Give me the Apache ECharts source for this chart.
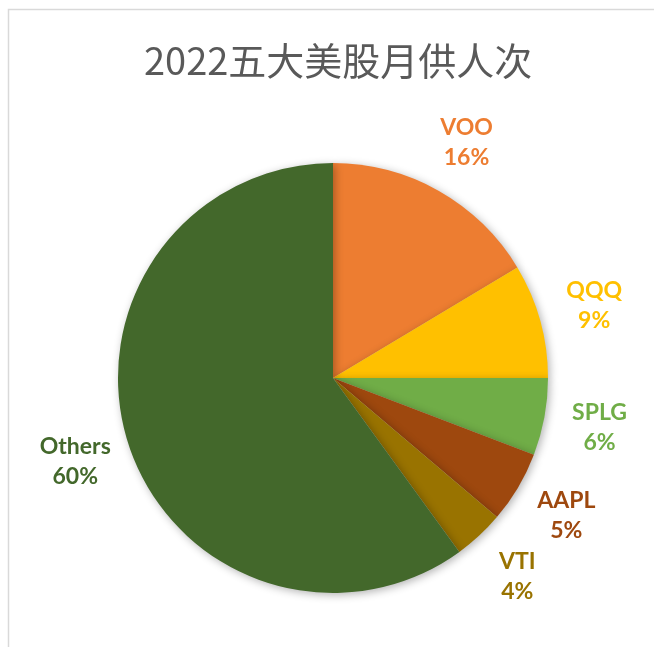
<!DOCTYPE html>
<html>
<head>
<meta charset="utf-8">
<script src="https://cdn.jsdelivr.net/npm/echarts@6/dist/echarts.min.js"></script>
<style>
  html, body { margin: 0; padding: 0; background: #fff; }
  #chart { width: 654px; height: 647px; }
</style>
</head>
<body>
<div id="chart"></div>
<script>
// --- Chart data ---
const titleText = '2022五大美股月供人次';
const tickers = ['VOO', 'QQQ', 'SPLG', 'AAPL', 'VTI', 'Others'];
const shares = [16.4, 8.6, 5.8, 5.4, 3.8, 60.0];
const sliceColors = ['#ED7D31', '#FFC000', '#70AD47', '#9E480E', '#997300', '#43682B'];

const chartDom = document.getElementById('chart');
const myChart = echarts.init(chartDom);

const pieData = tickers.map((name, i) => ({
    name: name,
    value: shares[i],
    itemStyle: { color: sliceColors[i] },
    label: { color: sliceColors[i] }
}));

const center = [333, 378];

const option = {
    animation: false,
    title: {
        text: titleText,
        left: 139,
        top: 37,
        textStyle: {
            fontFamily: 'Noto Sans CJK SC',
            fontSize: 38,
            fontWeight: 'normal',
            color: '#595959'
        }
    },
    graphic: [{
        type: 'rect',
        shape: { x: 8.5, y: 9.5, width: 700, height: 700 },
        style: { fill: 'none', stroke: '#D9D9D9', lineWidth: 1.5 },
        silent: true
    }],
    series: [
        {
            // the visible pie
            type: 'pie',
            center: center,
            radius: 215,
            startAngle: 90,
            clockwise: true,
            silent: true,
            data: pieData,
            label: { show: false },
            labelLine: { show: false },
            itemStyle: {
                borderWidth: 0,
                shadowBlur: 8,
                shadowOffsetX: 2,
                shadowOffsetY: 2,
                shadowColor: 'rgba(0,0,0,0.3)'
            }
        },
        {
            // invisible ring that carries the labels outside the pie
            type: 'pie',
            center: center,
            radius: [246, 290],
            startAngle: 90,
            clockwise: true,
            silent: true,
            data: pieData.map(d => ({ name: d.name, value: d.value, label: d.label })),
            itemStyle: { color: 'rgba(0,0,0,0)' },
            labelLine: { show: false },
            label: {
                show: true,
                position: 'inside',
                fontFamily: 'Lato',
                fontWeight: 'bold',
                fontSize: 23,
                lineHeight: 30,
                align: 'center',
                formatter: p => p.name + '\n' + Math.round(p.percent) + '%'
            }
        }
    ]
};

myChart.setOption(option);
</script>
</body>
</html>
